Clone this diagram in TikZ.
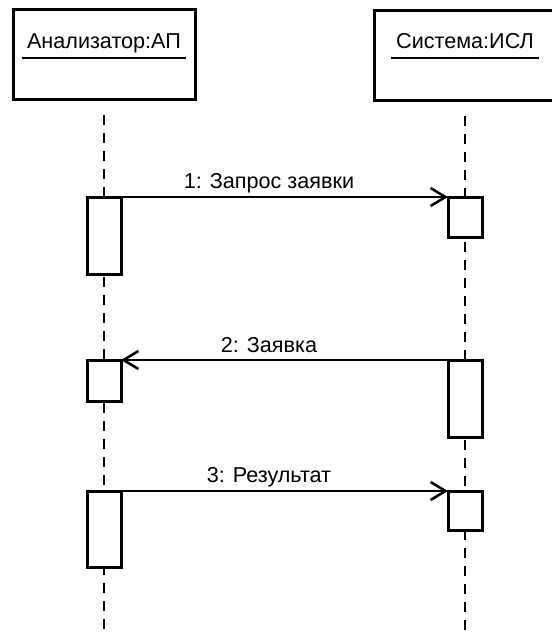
\documentclass[tikz,border=0pt]{standalone}
\usepackage{fontspec}
\setmainfont{Liberation Sans}
\usetikzlibrary{arrows.meta}
\begin{document}
\begin{tikzpicture}[x=1pt,y=-1pt,
  font=\fontsize{21.6}{25}\selectfont,
  headbox/.style={draw,line width=3pt,rectangle,minimum width=182pt,minimum height=90pt,inner sep=0pt,outer sep=0pt},
  title/.style={inner xsep=5pt,inner ysep=0pt,anchor=base},
  act/.style={draw,line width=3pt,fill=white,rectangle,minimum width=34pt,inner sep=0pt,outer sep=0pt,anchor=north},
  lifeline/.style={line width=2pt,dash pattern=on 10pt off 8pt,dash phase=10pt},
  msg/.style={line width=1.5pt,-{Straight Barb[length=15pt,width=18pt,line width=2.5pt]}},
  lbl/.style={anchor=base,inner sep=0pt}]
\useasboundingbox (0,0) rectangle (552,633);
\clip (0,0) rectangle (552,633);
\fill[white] (0,0) rectangle (552,633);
% heads
\node[headbox] (A) at (104,54) {};
\node[headbox] (B) at (465,55) {};
\node[title] (At) at (104,48) {Анализатор:АП};
\node[title] (Bt) at (465,48) {Система:ИСЛ};
\draw[line width=1.5pt] ([yshift=-10pt]At.base west) -- ([yshift=-10pt]At.base east);
\draw[line width=1.5pt] ([yshift=-10pt]Bt.base west) -- ([yshift=-10pt]Bt.base east);
% lifelines
\coordinate (Aend) at (104,640);
\coordinate (Bend) at (465,640);
\draw[lifeline] ([yshift=-8pt]A.south) -- (Aend);
\draw[lifeline] ([yshift=-8pt]B.south) -- (Bend);
% activations
\node[act,minimum height=77pt] (a1) at (104,197) {};
\node[act,minimum height=40pt] (b1) at (465,197) {};
\node[act,minimum height=41pt] (a2) at (104,360) {};
\node[act,minimum height=77pt] (b2) at (465,360) {};
\node[act,minimum height=76pt] (a3) at (104,491) {};
\node[act,minimum height=39pt] (b3) at (465,491) {};
% messages
\draw[msg] (a1.north east) -- (b1.north west);
\draw[msg] (b2.north west) -- (a2.north east);
\draw[msg] (a3.north east) -- (b3.north west);
\node[lbl] (m1) at (269,188) {1: Запрос заявки};
\node[lbl] (m2) at (269,352) {2: Заявка};
\node[lbl] (m3) at (269,482) {3: Результат};
\end{tikzpicture}
\end{document}
